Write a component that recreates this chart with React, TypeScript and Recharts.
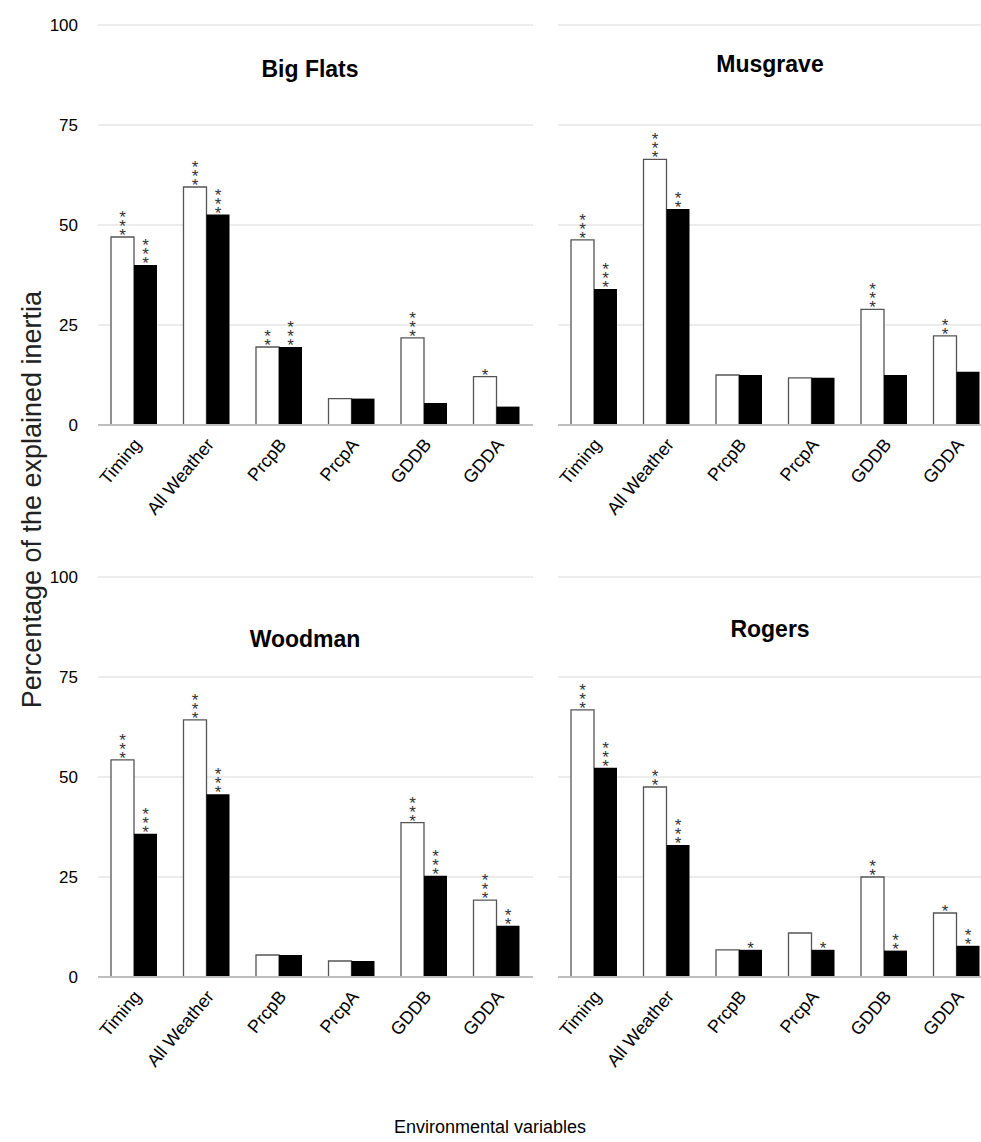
import { BarChart, Bar, XAxis, YAxis, CartesianGrid, LabelList } from 'recharts'

const categories = ['Timing', 'All Weather', 'PrcpB', 'PrcpA', 'GDDB', 'GDDA']
const yTicks = [0, 25, 50, 75, 100]

const bigFlatsOpen = [47, 59.5, 19.5, 6.6, 21.8, 12.1]
const bigFlatsFilled = [40, 52.6, 19.5, 6.6, 5.5, 4.6]
const bigFlatsOpenStars = ['***', '***', '**', '', '***', '*']
const bigFlatsFilledStars = ['***', '***', '***', '', '', '']

const musgraveOpen = [46.3, 66.4, 12.5, 11.8, 28.9, 22.3]
const musgraveFilled = [34, 54, 12.5, 11.8, 12.5, 13.3]
const musgraveOpenStars = ['***', '***', '', '', '***', '**']
const musgraveFilledStars = ['***', '**', '', '', '', '']

const woodmanOpen = [54.3, 64.3, 5.5, 4, 38.6, 19.2]
const woodmanFilled = [35.8, 45.7, 5.5, 4, 25.3, 12.8]
const woodmanOpenStars = ['***', '***', '', '', '***', '***']
const woodmanFilledStars = ['***', '***', '', '', '***', '**']

const rogersOpen = [66.8, 47.5, 6.8, 11, 25, 16]
const rogersFilled = [52.3, 33, 6.8, 6.8, 6.6, 7.8]
const rogersOpenStars = ['***', '**', '', '', '**', '*']
const rogersFilledStars = ['***', '***', '*', '*', '**', '**']

const font = 'Liberation Sans, Arial, sans-serif'

function Stars(stars: string[]) {
  return (props: any) => {
    const { x, y, width, index } = props
    const s = stars[index] || ''
    if (!s) return null
    const cx = x + width / 2
    return (
      <g>
        {s.split('').map((c, i) => (
          <text key={i} x={cx} y={y + 4 - (s.length - 1 - i) * 9} textAnchor="middle" fontSize={17} fontFamily={font} fill="#333">
            {c}
          </text>
        ))}
      </g>
    )
  }
}

function Tick(props: any) {
  const { x, y, payload } = props
  const tx = x + 8
  const ty = y + 12
  return (
    <text x={tx} y={ty} textAnchor="end" fontSize={18} fontFamily={font} fill="#000" transform={`rotate(-50 ${tx} ${ty})`}>
      {payload.value}
    </text>
  )
}

function Panel(p: {
  title: string
  open: number[]
  filled: number[]
  openStars: string[]
  filledStars: string[]
  left: number
  top: number
  showY: boolean
  titleX: number
  titleY: number
}) {
  const data = categories.map((c, i) => ({ name: c, open: p.open[i], filled: p.filled[i] }))
  const yw = p.showY ? 98 : 0
  return (
    <div style={{ position: 'absolute', left: p.left, top: p.top }}>
      <BarChart width={yw + 435} height={545} data={data} margin={{ top: 25, right: 0, left: 0, bottom: 0 }} barGap={0} barSize={23}>
        <CartesianGrid vertical={false} stroke="#d9d9d9" />
        <XAxis dataKey="name" height={120} interval={0} tick={<Tick />} tickLine={false} axisLine={{ stroke: '#bfbfbf', strokeWidth: 2 }} />
        <YAxis
          hide={!p.showY}
          width={yw}
          domain={[0, 100]}
          ticks={yTicks}
          axisLine={false}
          tickLine={false}
          tickMargin={14}
          tick={{ fontSize: 17, fill: '#000', fontFamily: font }}
        />
        <Bar dataKey="open" fill="#fff" stroke="#555" strokeWidth={1.3} isAnimationActive={false}>
          <LabelList dataKey="open" content={Stars(p.openStars)} />
        </Bar>
        <Bar dataKey="filled" fill="#000" isAnimationActive={false}>
          <LabelList dataKey="filled" content={Stars(p.filledStars)} />
        </Bar>
      </BarChart>
      <div
        style={{
          position: 'absolute',
          left: p.titleX - 150,
          width: 300,
          top: p.titleY - 14,
          textAlign: 'center',
          fontFamily: 'Liberation Sans, Arial, sans-serif',
          fontWeight: 'bold',
          fontSize: 23,
        }}
      >
        {p.title}
      </div>
    </div>
  )
}

export default function App() {
  return (
    <div style={{ position: 'absolute', left: 0, top: 0, width: 981, height: 1142, overflow: 'hidden', background: '#fff' }}>
      <style>{'.recharts-surface{overflow:visible}'}</style>
      <Panel title="Big Flats" open={bigFlatsOpen} filled={bigFlatsFilled} openStars={bigFlatsOpenStars} filledStars={bigFlatsFilledStars} left={0} top={0} showY titleX={310} titleY={70} />
      <Panel title="Musgrave" open={musgraveOpen} filled={musgraveFilled} openStars={musgraveOpenStars} filledStars={musgraveFilledStars} left={558} top={0} showY={false} titleX={212} titleY={65} />
      <Panel title="Woodman" open={woodmanOpen} filled={woodmanFilled} openStars={woodmanOpenStars} filledStars={woodmanFilledStars} left={0} top={552} showY titleX={305} titleY={88} />
      <Panel title="Rogers" open={rogersOpen} filled={rogersFilled} openStars={rogersOpenStars} filledStars={rogersFilledStars} left={558} top={552} showY={false} titleX={212} titleY={78} />
      <div
        style={{
          position: 'absolute',
          left: 32 - 300,
          top: 500 - 16,
          width: 600,
          textAlign: 'center',
          transform: 'rotate(-90deg)',
          fontFamily: 'Liberation Sans, Arial, sans-serif',
          fontSize: 27,
          color: '#222',
        }}
      >
        Percentage of the explained inertia
      </div>
      <div
        style={{
          position: 'absolute',
          left: 190,
          top: 1117,
          width: 600,
          textAlign: 'center',
          fontFamily: 'Liberation Sans, Arial, sans-serif',
          fontSize: 18,
        }}
      >
        Environmental variables
      </div>
    </div>
  )
}
